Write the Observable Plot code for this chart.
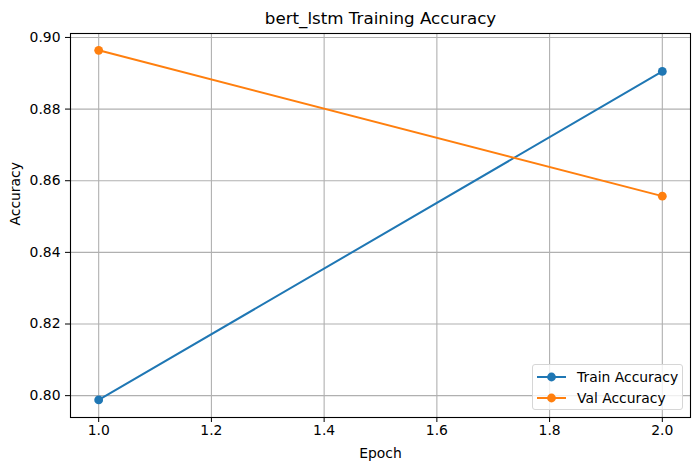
<!DOCTYPE html>
<html>
<head>
<meta charset="utf-8">
<script src="https://cdn.jsdelivr.net/npm/d3@7"></script>
<script src="https://cdn.jsdelivr.net/npm/@observablehq/plot@0.6"></script>
<style>
  html, body { margin: 0; padding: 0; background: #fff; }
  #wrap { position: relative; width: 700px; height: 470px; font-family: "DejaVu Sans", sans-serif; }
  #legend { position: absolute; left: 532px; top: 364px; width: 151px; height: 46px;
    border: 1px solid #d6d6d6; border-radius: 3px; background: rgba(255,255,255,0.8); box-sizing: border-box; }
  .row { position: absolute; left: 0; height: 20px; display: flex; align-items: center; font-size: 13.9px; color: #000; white-space: nowrap; }
  .row svg { margin-left: 4px; margin-right: 10px; }
</style>
</head>
<body>
<div id="wrap"></div>
<script>
const epochs = [1, 2];
const trainAcc = [0.7988, 0.8905];
const valAcc = [0.8964, 0.8557];
const seriesNames = ["Train Accuracy", "Val Accuracy"];
const seriesColors = ["#1f77b4", "#ff7f0e"];
const xTicks = [1.0, 1.2, 1.4, 1.6, 1.8, 2.0];
const yTicks = [0.80, 0.82, 0.84, 0.86, 0.88, 0.90];
const titleText = "bert_lstm Training Accuracy";
const xLabel = "Epoch";
const yLabel = "Accuracy";

const rows = [];
epochs.forEach((e, i) => {
  rows.push({epoch: e, acc: trainAcc[i], series: seriesNames[0]});
  rows.push({epoch: e, acc: valAcc[i], series: seriesNames[1]});
});

const font = "DejaVu Sans, sans-serif";
const chart = Plot.plot({
  width: 700,
  height: 470,
  marginLeft: 70,
  marginRight: 10,
  marginTop: 33,
  marginBottom: 53,
  style: { fontFamily: font, fontSize: "13.9px", color: "#000", background: "#fff" },
  x: { domain: [0.95, 2.05], ticks: xTicks, tickFormat: d3.format(".1f"), label: null },
  y: { domain: [0.7939, 0.9011], ticks: yTicks, tickFormat: d3.format(".2f"), label: null },
  color: { domain: seriesNames, range: seriesColors },
  marks: [
    Plot.gridX(xTicks, { stroke: "#b0b0b0", strokeOpacity: 1, strokeWidth: 1.1 }),
    Plot.gridY(yTicks, { stroke: "#b0b0b0", strokeOpacity: 1, strokeWidth: 1.1 }),
    Plot.axisX(xTicks, { tickSize: 5, tickPadding: 3, tickFormat: d3.format(".1f"), stroke: "#000", fontSize: 13.9, label: null }),
    Plot.axisY(yTicks, { tickSize: 5, tickPadding: 5, tickFormat: d3.format(".2f"), stroke: "#000", fontSize: 13.9, label: null }),
    Plot.line(rows, { x: "epoch", y: "acc", z: "series", stroke: "series", strokeWidth: 2 }),
    Plot.dot(rows, { x: "epoch", y: "acc", fill: "series", r: 4.4 }),
    Plot.frame({ stroke: "#000", strokeWidth: 1.1 }),
    Plot.text([titleText], { frameAnchor: "top", dy: -15, lineAnchor: "middle", fontSize: 16.7, fill: "#000" }),
    Plot.text([xLabel], { frameAnchor: "bottom", dy: 36, lineAnchor: "middle", fontSize: 13.9, fill: "#000" }),
    Plot.text([yLabel], { frameAnchor: "left", dx: -55, rotate: -90, lineAnchor: "middle", fontSize: 13.9, fill: "#000" })
  ]
});
const wrap = document.getElementById("wrap");
wrap.appendChild(chart);

const legend = document.createElement("div");
legend.id = "legend";
seriesNames.forEach((name, i) => {
  const row = document.createElement("div");
  row.className = "row";
  row.style.top = (2 + i * 21.3) + "px";
  row.innerHTML = `<svg width="30" height="12"><line x1="0" y1="6" x2="29" y2="6" stroke="${seriesColors[i]}" stroke-width="2"/><circle cx="14.5" cy="6" r="4.4" fill="${seriesColors[i]}"/></svg><span>${name}</span>`;
  legend.appendChild(row);
});
wrap.appendChild(legend);
</script>
</body>
</html>
